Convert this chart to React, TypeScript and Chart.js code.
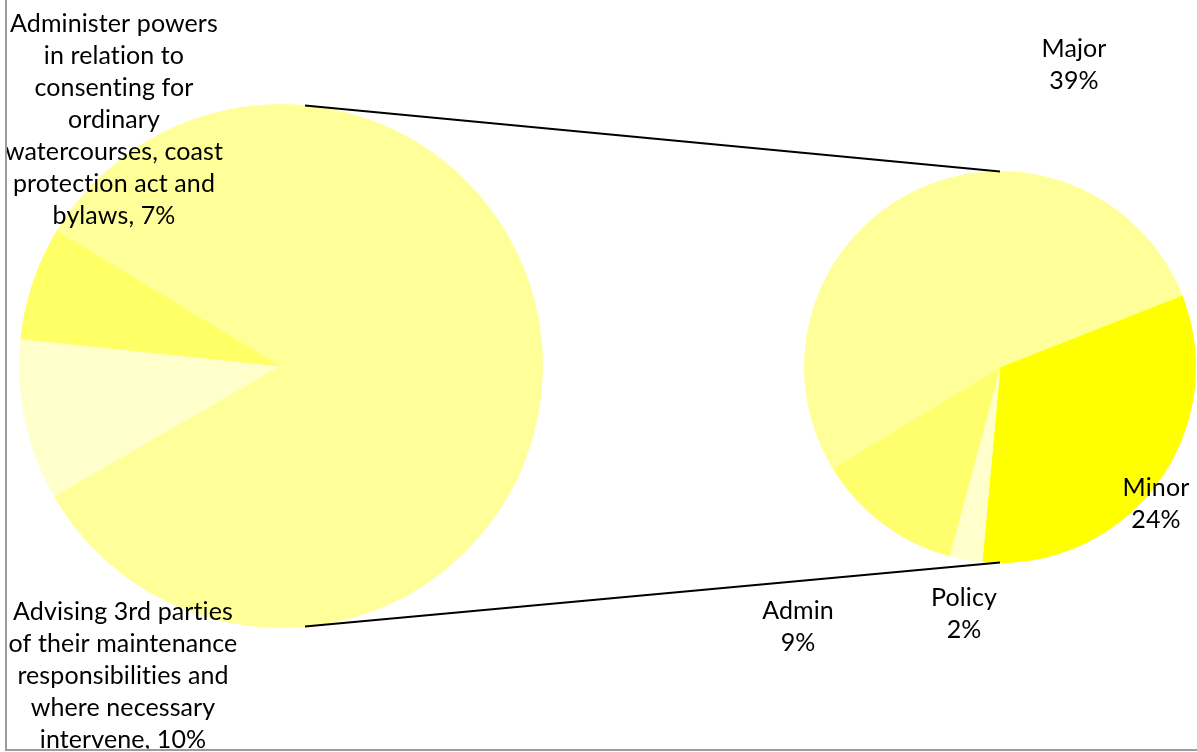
import React, { useEffect, useRef } from "react";
import { Chart, registerables } from "chart.js";

Chart.register(...registerables);

const W = 1197;
const H = 752;

// ---- First (main) pie ----
const mainCategories = [
  "Advising 3rd parties of their maintenance responsibilities and where necessary intervene",
  "Administer powers in relation to consenting for ordinary watercourses, coast protection act and bylaws",
  "Other",
];
const mainValues = [10, 7, 83];
const mainColors = ["#FFFFCC", "#FFFF66", "#FFFF99"];

// ---- Second pie (breakdown of Other) ----
const subCategories = ["Minor", "Policy", "Admin", "Major"];
const subValues = [24, 2, 9, 39];
const subColors = ["#FFFF00", "#FFFFCC", "#FFFF6E", "#FFFF99"];

// ---- Data label texts ----
const mainLabelLines = [
  ["Advising 3rd parties", "of their maintenance", "responsibilities and", "where necessary", "intervene, 10%"],
  ["Administer powers", "in relation to", "consenting for", "ordinary", "watercourses, coast", "protection act and", "bylaws, 7%"],
  [],
];
const subLabelLines = [
  ["Minor", "24%"],
  ["Policy", "2%"],
  ["Admin", "9%"],
  ["Major", "39%"],
];

// label anchors: centre x, first baseline y
const mainLabelPos = [
  { x: 123, y: 620 },
  { x: 114, y: 32 },
  { x: 0, y: 0 },
];
const subLabelPos = [
  { x: 1156, y: 496 },
  { x: 964, y: 606 },
  { x: 798, y: 619 },
  { x: 1074, y: 57 },
];

const FONT = "25px Lato, 'Open Sans', sans-serif";
const LINE_H = 32;

function drawLabels(ctx: CanvasRenderingContext2D, lines: string[][], pos: { x: number; y: number }[]) {
  ctx.font = FONT;
  (ctx as any).letterSpacing = "0.1px";
  ctx.fillStyle = "#000000";
  ctx.textAlign = "center";
  ctx.textBaseline = "alphabetic";
  lines.forEach((ls, i) => {
    ls.forEach((t, j) => {
      ctx.fillText(t, pos[i].x, pos[i].y + j * LINE_H);
    });
  });
}

export default function App() {
  const leftRef = useRef<HTMLCanvasElement | null>(null);
  const rightRef = useRef<HTMLCanvasElement | null>(null);

  useEffect(() => {
    if (!leftRef.current || !rightRef.current) return;

    const left = new Chart(leftRef.current, {
      type: "pie",
      data: {
        labels: mainCategories,
        datasets: [
          {
            data: mainValues,
            backgroundColor: mainColors,
            borderColor: mainColors,
            borderWidth: 1,
          },
        ],
      },
      options: {
        responsive: false,
        animation: false,
        rotation: 240,
        layout: { padding: { left: 19, right: 654, top: 104, bottom: 124 } },
        plugins: { legend: { display: false }, tooltip: { enabled: false } },
      },
    });

    const overlay = {
      id: "pieOfPieOverlay",
      afterDraw(chart: any) {
        const ctx: CanvasRenderingContext2D = chart.ctx;
        const a: any = left.getDatasetMeta(0).data[0];
        const b: any = chart.getDatasetMeta(0).data[0];
        if (!a || !b) return;
        const r1 = a.outerRadius;
        const r2 = b.outerRadius;
        const d = b.x - a.x;
        const alpha = Math.asin((r1 - r2) / d);
        ctx.save();
        ctx.strokeStyle = "#000000";
        ctx.lineWidth = 2;
        ctx.beginPath();
        ctx.moveTo(a.x + r1 * Math.sin(alpha), a.y - r1 * Math.cos(alpha));
        ctx.lineTo(b.x, b.y - r2);
        ctx.moveTo(a.x + r1 * Math.sin(alpha), a.y + r1 * Math.cos(alpha));
        ctx.lineTo(b.x, b.y + r2);
        ctx.stroke();
        ctx.restore();

        ctx.save();
        ctx.beginPath();
        ctx.rect(7, 0, W, 749);
        ctx.clip();
        drawLabels(ctx, mainLabelLines, mainLabelPos);
        drawLabels(ctx, subLabelLines, subLabelPos);
        ctx.restore();

        ctx.save();
        ctx.strokeStyle = "#9C9C9C";
        ctx.lineWidth = 2;
        ctx.beginPath();
        ctx.moveTo(6, 0);
        ctx.lineTo(6, 750);
        ctx.lineTo(W, 750);
        ctx.stroke();
        ctx.restore();
      },
    };

    const right = new Chart(rightRef.current, {
      type: "pie",
      data: {
        labels: subCategories,
        datasets: [
          {
            data: subValues,
            backgroundColor: subColors,
            borderColor: subColors,
            borderWidth: 1,
          },
        ],
      },
      options: {
        responsive: false,
        animation: false,
        rotation: 68.5,
        layout: { padding: { left: 804, right: 1, top: 171, bottom: 189 } },
        plugins: { legend: { display: false }, tooltip: { enabled: false } },
      },
      plugins: [overlay],
    });

    return () => {
      right.destroy();
      left.destroy();
    };
  }, []);

  return (
    <div style={{ position: "absolute", left: 0, top: 0, width: W, height: H, background: "#ffffff" }}>
      <canvas ref={leftRef} width={W} height={H} style={{ position: "absolute", left: 0, top: 0 }} />
      <canvas ref={rightRef} width={W} height={H} style={{ position: "absolute", left: 0, top: 0 }} />
    </div>
  );
}
